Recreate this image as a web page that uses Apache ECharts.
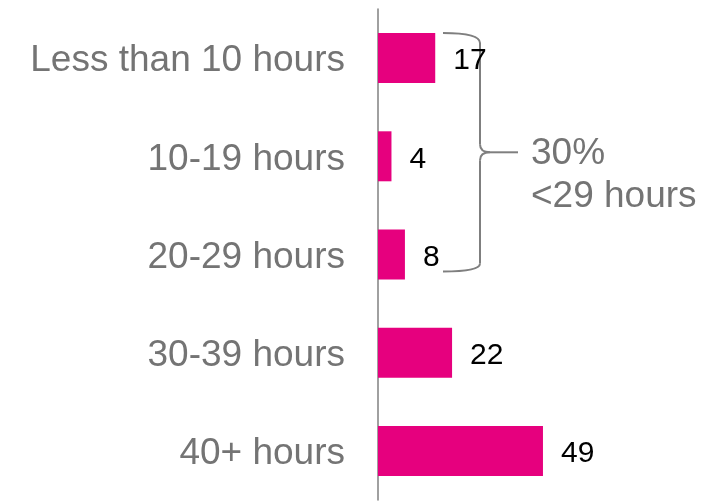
<!DOCTYPE html>
<html>
<head>
<meta charset="utf-8">
<title>Hours</title>
<script src="https://cdn.jsdelivr.net/npm/echarts@6/dist/echarts.min.js"></script>
</head>
<body style="margin:0;padding:0;background:#fff">
<div id="chart" style="width:715px;height:502px;"></div>
<script type="text/javascript">
var categories = ['Less than 10 hours', '10-19 hours', '20-29 hours', '30-39 hours', '40+ hours'];
var values = [17, 4, 8, 22, 49];
var noteLines = ['30%', '<29 hours'];

var gray = '#747474';
var font = 'Liberation Sans, Arial, sans-serif';
var chart = echarts.init(document.getElementById('chart'));

var option = {
    backgroundColor: '#fff',
    animation: false,
    grid: { left: 378, top: 9, width: 202, height: 491 },
    xAxis: {
        type: 'value', min: 0, max: 60,
        show: false
    },
    yAxis: {
        type: 'category',
        data: categories,
        inverse: true,
        axisLine: { lineStyle: { color: '#808080', width: 1.5 } },
        axisTick: { show: false },
        axisLabel: {
            color: gray, fontSize: 37, margin: 33,
            verticalAlign: 'top', lineHeight: 6,
            fontFamily: font
        }
    },
    series: [{
        type: 'bar',
        data: values,
        barWidth: 50,
        itemStyle: { color: '#e6007e' },
        label: {
            show: true, position: 'right', distance: 18, offset: [0, 3],
            color: '#000', fontSize: 30,
            fontFamily: font
        }
    }]
};
chart.setOption(option);

// bracket around the first three bars
var yTop = chart.convertToPixel({ yAxisIndex: 0 }, categories[0]) - 25;
var yBot = chart.convertToPixel({ yAxisIndex: 0 }, categories[2]) + 17;
var yMid = (yTop + yBot) / 2;
var x0 = 443, xv = 480, xn = 518;
var st = { stroke: '#7f7f7f', lineWidth: 2, fill: null };

function curve(x1, y1, cx, cy, x2, y2) {
    return { type: 'bezierCurve', shape: { x1: x1, y1: y1, cpx1: cx, cpy1: cy, x2: x2, y2: y2 }, style: st };
}
function seg(x1, y1, x2, y2) {
    return { type: 'line', shape: { x1: x1, y1: y1, x2: x2, y2: y2 }, style: st };
}

chart.setOption({
    graphic: [
        curve(x0, yTop, xv, yTop, xv, yTop + 10),
        seg(xv, yTop + 10, xv, yMid - 8),
        curve(xv, yMid - 8, xv, yMid, xv + 10, yMid),
        seg(xv + 10, yMid, xn, yMid),
        curve(xv + 10, yMid, xv, yMid, xv, yMid + 8),
        seg(xv, yMid + 8, xv, yBot - 8),
        curve(xv, yBot - 8, xv, yBot, x0, yBot),
        {
            type: 'text',
            left: 531, top: yMid - 20,
            style: {
                text: noteLines.join('\n'),
                fill: gray, fontSize: 37, lineHeight: 43,
                fontFamily: font
            }
        }
    ]
});
</script>
</body>
</html>
